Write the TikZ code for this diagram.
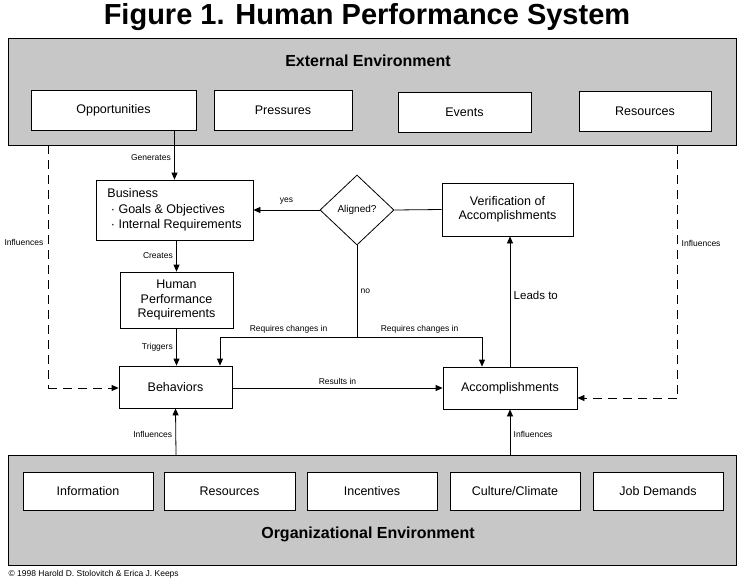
\documentclass[tikz,border=0pt]{standalone}
\usepackage{fontspec}
\setmainfont{Liberation Sans}
\usetikzlibrary{shapes.geometric,arrows.meta}
\begin{document}
\begin{tikzpicture}[x=1pt,y=-1pt,
  bx/.style={draw,thick,fill=white,font=\fontsize{12.5}{14.5}\selectfont,align=center,inner sep=0pt},
  env/.style={draw,thick,fill=black!22},
  lab/.style={font=\fontsize{8.5}{10}\selectfont},
  arr/.style={thick,-{Triangle[length=7pt,width=6pt]}},
  dsh/.style={thick,dash pattern=on 9pt off 6pt}]
\useasboundingbox (0,0) rectangle (738,581);
\fill[white] (0,0) rectangle (738,581);
\node[font=\fontsize{29}{32}\selectfont\bfseries] (title) at (367,17) {Figure 1. Human Performance System};
% external
\draw[env] (8,38) rectangle (736,145);
\node[font=\fontsize{16}{18}\selectfont\bfseries] (ext) at (368,61) {External Environment};
\node[bx,minimum width=165pt,minimum height=40pt] (opp) at (113.5,110) {Opportunities};
\node[bx,minimum width=138pt,minimum height=40pt] (pre) at (283,110) {Pressures};
\node[bx,minimum width=133pt,minimum height=40pt] (evt) at (464.5,112) {Events};
\node[bx,minimum width=132pt,minimum height=40pt] (res) at (645,111) {Resources};
% org
\draw[env] (8,455) rectangle (736,565);
\node[font=\fontsize{16}{18}\selectfont\bfseries] (org) at (368,534) {Organizational Environment};
\node[bx,minimum width=130pt,minimum height=38pt] (inf) at (88,491) {Information};
\node[bx,minimum width=131pt,minimum height=38pt] (ores) at (229.5,491) {Resources};
\node[bx,minimum width=130pt,minimum height=38pt] (inc) at (372,491) {Incentives};
\node[bx,minimum width=130pt,minimum height=38pt] (cul) at (515,491) {Culture/Climate};
\node[bx,minimum width=130pt,minimum height=38pt] (job) at (658,491) {Job Demands};
% middle
\node[bx,minimum width=157pt,minimum height=60pt,align=left] (bus) at (174.5,210) {Business\\[1pt]\ \textperiodcentered\ Goals \& Objectives\\[1pt]\ \textperiodcentered\ Internal Requirements};
\node[bx,minimum width=113pt,minimum height=56pt] (hpr) at (176.5,300) {Human\\Performance\\Requirements};
\node[bx,minimum width=113pt,minimum height=42pt] (beh) at (175.5,387) {Behaviors};
\node[bx,minimum width=134pt,minimum height=42pt] (acc) at (510,388) {Accomplishments};
\node[bx,minimum width=131pt,minimum height=53pt] (ver) at (507.5,209.5) {Verification of\\Accomplishments};
\node[draw,thick,diamond,fill=white,minimum width=74pt,minimum height=70pt,inner sep=0pt,font=\fontsize{10}{12}\selectfont] (dia) at (357,210) {Aligned?};
% arrows
\draw[arr] (opp.south -| bus.north) -- node[lab,left,pos=0.55]{Generates} (bus.north);
\draw[arr] (bus.south -| hpr.north) -- node[lab,left]{Creates} (hpr.north);
\draw[arr] (hpr.south) -- node[lab,left]{Triggers} (hpr.south |- beh.north);
\draw[arr] (dia.west) -- node[lab,above=2pt]{yes} (bus.east |- dia.west);
\draw[thick] (ver.west) -- (dia.east);
\coordinate (nj) at (357,337);
\coordinate (bl) at (220,337);
\coordinate (br) at (482,337);
\draw[thick] (dia.south) -- node[lab,right,pos=0.5]{no} (nj);
\draw[arr] (nj) -- node[lab,above]{Requires changes in} (bl) -- (bl |- beh.north);
\draw[arr] (nj) -- node[lab,above]{Requires changes in} (br) -- (br |- acc.north);
\draw[arr] (beh.east |- acc.west) -- node[lab,above]{Results in} (acc.west);
\draw[arr] (acc.north) -- node[right,font=\fontsize{11.5}{13}\selectfont,pos=0.55]{Leads to} (acc.north |- ver.south);
\coordinate (dl) at (48,145);
\coordinate (dr) at (677,145);
\draw[dsh] (dl) -- node[lab,pos=0.4,left=1pt]{Influences} (48,388);
\draw[dsh,-{Triangle[length=7pt,width=6pt]}] (48,388) -- (beh.west |- 0,388);
\draw[dsh] (dr) -- node[lab,pos=0.39,right=1pt]{Influences} (677,398);
\draw[dsh,-{Triangle[length=7pt,width=6pt]}] (677,398) -- (acc.east |- 0,398);
\draw[arr] (176,455) -- node[lab,left,pos=0.45]{Influences} (beh.south);
\draw[arr] (510,455) -- node[lab,right,pos=0.45]{Influences} (acc.south);
\node[lab,anchor=west] (copy) at (5,574) {\textcopyright\ 1998 Harold D. Stolovitch \& Erica J. Keeps};
\end{tikzpicture}
\end{document}
